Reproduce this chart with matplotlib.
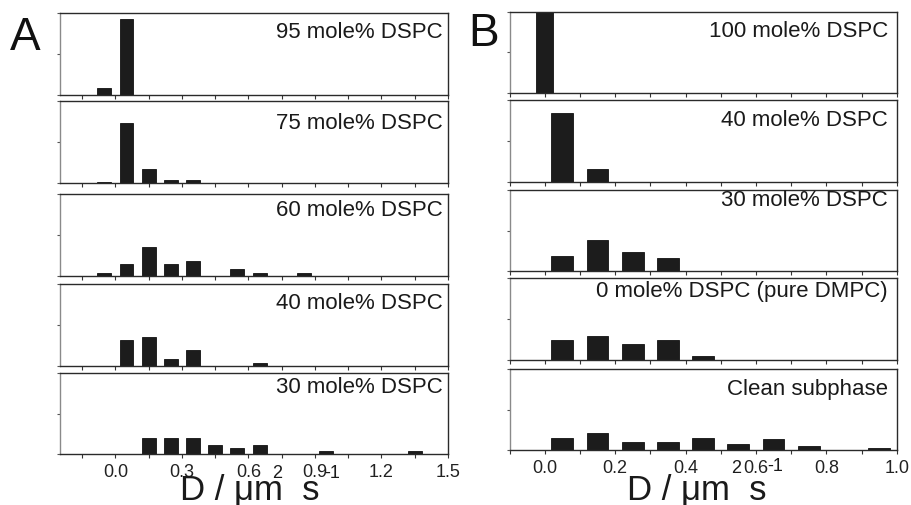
import numpy as np
import matplotlib
matplotlib.use("Agg")
import matplotlib.pyplot as plt
from matplotlib.ticker import MultipleLocator

plt.rcParams['font.family'] = ['Liberation Sans', 'DejaVu Sans']

# histogram data: bin centres (D, um^2/s) and fraction of molecules
a_labels = ["95 mole% DSPC", "75 mole% DSPC", "60 mole% DSPC",
            "40 mole% DSPC", "30 mole% DSPC"]
a95_x = [-0.05, 0.05]
a95_y = [0.08, 0.93]
a75_x = [-0.05, 0.05, 0.15, 0.25, 0.35]
a75_y = [0.012, 0.73, 0.165, 0.033, 0.033]
a60_x = [-0.05, 0.05, 0.15, 0.25, 0.35, 0.55, 0.65, 0.85]
a60_y = [0.03, 0.147, 0.355, 0.147, 0.175, 0.086, 0.03, 0.03]
a40_x = [0.05, 0.15, 0.25, 0.35, 0.65]
a40_y = [0.316, 0.357, 0.078, 0.197, 0.037]
a30_x = [0.15, 0.25, 0.35, 0.45, 0.55, 0.65, 0.95, 1.35]
a30_y = [0.2, 0.2, 0.2, 0.114, 0.082, 0.114, 0.04, 0.04]

b_labels = ["100 mole% DSPC", "40 mole% DSPC", "30 mole% DSPC",
            "0 mole% DSPC (pure DMPC)", "Clean subphase"]
b100_x = [0.0]
b100_y = [1.0]
b40_x = [0.05, 0.15]
b40_y = [0.845, 0.155]
b30_x = [0.05, 0.15, 0.25, 0.35]
b30_y = [0.193, 0.385, 0.242, 0.164]
b0_x = [0.05, 0.15, 0.25, 0.35, 0.45]
b0_y = [0.245, 0.294, 0.192, 0.245, 0.053]
bcl_x = [0.05, 0.15, 0.25, 0.35, 0.45, 0.55, 0.65, 0.75, 0.95]
bcl_y = [0.152, 0.21, 0.103, 0.103, 0.152, 0.078, 0.132, 0.05, 0.025]

a_xticks = [0.0, 0.3, 0.6, 0.9, 1.2, 1.5]
b_xticks = [0.0, 0.2, 0.4, 0.6, 0.8, 1.0]

W, H = 911, 505
fig = plt.figure(figsize=(W / 100, H / 100), dpi=100)


def px_axes(x0, x1, top, bot):
    return fig.add_axes([x0 / W, 1 - bot / H, (x1 - x0) / W, (bot - top) / H])


def style(ax, xlim, major, minor, show_labels):
    ax.set_xlim(*xlim)
    ax.set_ylim(0, 1.0)
    ax.xaxis.set_major_locator(MultipleLocator(major))
    ax.xaxis.set_minor_locator(MultipleLocator(minor))
    ax.set_yticks([0, 0.5, 1.0])
    ax.set_yticklabels([])
    for s in ['top', 'right', 'bottom']:
        ax.spines[s].set_color('#2a2a2a')
        ax.spines[s].set_linewidth(1.0)
    ax.spines['left'].set_color('#8a8a8a')
    ax.spines['left'].set_linewidth(1.0)
    ax.tick_params(axis='x', which='both', direction='out', length=3,
                   width=0.8, color='#333333', labelsize=13, pad=4,
                   labelcolor='#222222')
    ax.tick_params(axis='y', which='both', direction='out', length=2.5,
                   width=0.8, color='#555555')
    if show_labels:
        ax.xaxis.set_major_formatter(lambda v, p: f"{v:.1f}")
    else:
        ax.set_xticklabels([])


bar_kw = dict(color='#1c1c1c', edgecolor='#111111', linewidth=0.6)

# panel A
a_data = [(a95_x, a95_y), (a75_x, a75_y), (a60_x, a60_y), (a40_x, a40_y), (a30_x, a30_y)]
a_rows = [(13, 95), (100.7, 182.7), (194, 275.7), (284.3, 365.7), (372.7, 454.3)]
a_label_dy = [20, 23, 17, 19, 15]
for i, ((xs, ys), (top, bot)) in enumerate(zip(a_data, a_rows)):
    ax = px_axes(60, 448, top, bot)
    ax.bar(xs, ys, width=0.063, **bar_kw)
    style(ax, (-0.25, 1.5), 0.3, 0.15, i == 4)
    if i == 4:
        ax.set_xticks(a_xticks)
    ax.text((443 - 60) / 388, 1 - a_label_dy[i] / (bot - top),
            a_labels[i], transform=ax.transAxes, ha='right', va='center',
            fontsize=16, color='#1a1a1a')

# panel B
b_data = [(b100_x, b100_y), (b40_x, b40_y), (b30_x, b30_y), (b0_x, b0_y), (bcl_x, bcl_y)]
b_rows = [(11.7, 92.7), (100, 181.7), (190, 271.3), (278.3, 360), (369, 450)]
b_label_dy = [20, 20, 11, 13, 20]
for i, ((xs, ys), (top, bot)) in enumerate(zip(b_data, b_rows)):
    ax = px_axes(509.5, 896.7, top, bot)
    ax.bar(xs, ys, width=0.049 if i == 0 else 0.0615, **bar_kw)
    style(ax, (-0.1, 1.0), 0.2, 0.1, i == 4)
    if i == 4:
        ax.set_xticks(b_xticks)
    ax.text((888 - 509.5) / 387.2, 1 - b_label_dy[i] / (bot - top),
            b_labels[i], transform=ax.transAxes, ha='right', va='center',
            fontsize=16, color='#1a1a1a')


def ftext(x, y, s, **kw):
    fig.text(x / W, 1 - y / H, s, **kw)


# axis titles, with the exponents set as separate pieces
ftext(250, 499, "D / \u03bcm  s", fontsize=25, ha='center', va='baseline', color='#1a1a1a')
ftext(277, 478, "2", fontsize=13, ha='center', va='baseline', color='#1a1a1a')
ftext(324, 478, "-1", fontsize=13, ha='left', va='baseline', color='#1a1a1a')

ftext(697, 499, "D / \u03bcm  s", fontsize=25, ha='center', va='baseline', color='#1a1a1a')
ftext(736, 473, "2", fontsize=13, ha='center', va='baseline', color='#1a1a1a')
ftext(767, 471, "-1", fontsize=13, ha='left', va='baseline', color='#1a1a1a')

# panel letters
ftext(10, 50, "A", fontsize=33, ha='left', va='baseline', color='#111111')
ftext(468, 46, "B", fontsize=33, ha='left', va='baseline', color='#111111')

fig.savefig("out.png", dpi=100, facecolor='white')
